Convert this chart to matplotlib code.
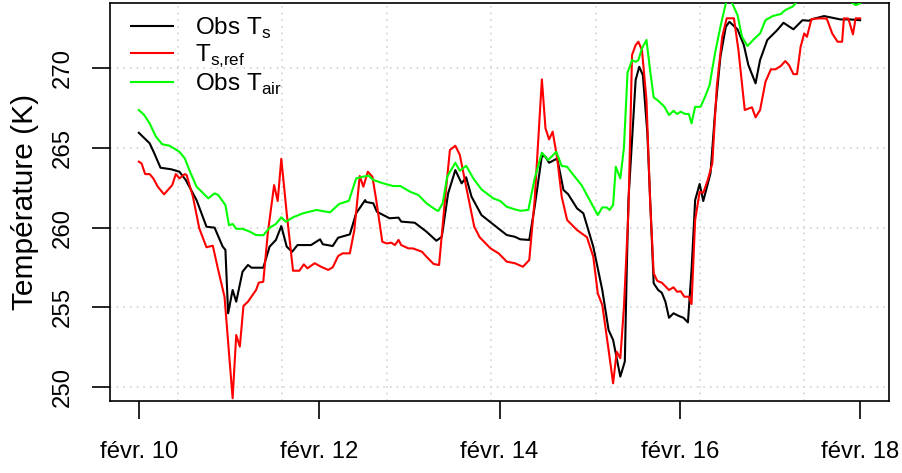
import matplotlib
matplotlib.use("Agg")
import matplotlib.pyplot as plt
import matplotlib.dates as mdates
import numpy as np
import pandas as pd

# Observations, 10-18 février (temps en jours depuis le 10 févr. 00:00)
start = pd.Timestamp("2016-02-10 00:00")

ts_obs_days = [0.00, 0.12, 0.17, 0.24, 0.36, 0.45, 0.52, 0.64, 0.75, 0.84, 0.93, 0.96, 0.99, 1.04, 1.08,
               1.15, 1.21, 1.25, 1.38, 1.45, 1.52, 1.58, 1.64, 1.70, 1.76, 1.91, 2.01, 2.04, 2.15, 2.21,
               2.34, 2.41, 2.51, 2.52, 2.60, 2.64, 2.78, 2.88, 2.91, 3.06, 3.19, 3.30, 3.36, 3.43, 3.51,
               3.58, 3.63, 3.69, 3.80, 4.01, 4.08, 4.17, 4.23, 4.33, 4.39, 4.47, 4.51, 4.55, 4.64, 4.71,
               4.76, 4.86, 4.93, 5.04, 5.14, 5.21, 5.26, 5.34, 5.39, 5.41, 5.43, 5.51, 5.55, 5.59, 5.64,
               5.71, 5.76, 5.80, 5.84, 5.88, 5.93, 5.99, 6.04, 6.09, 6.13, 6.17, 6.22, 6.26, 6.34, 6.39,
               6.45, 6.51, 6.55, 6.64, 6.71, 6.76, 6.84, 6.89, 6.97, 7.08, 7.15, 7.26, 7.36, 7.43, 7.49,
               7.60, 7.67, 7.78, 7.89, 8.00]
ts_obs = [265.94, 265.28, 264.67, 263.75, 263.65, 263.50, 262.98, 261.72, 260.05, 259.99, 258.80, 258.60,
          254.62, 256.08, 255.35, 257.23, 257.65, 257.48, 257.48, 258.80, 259.22, 260.09, 258.80, 258.48,
          258.90, 258.90, 259.26, 258.95, 258.84, 259.36, 259.57, 260.89, 261.72, 261.60, 261.52, 260.99,
          260.58, 260.62, 260.37, 260.30, 259.74, 259.17, 259.42, 262.14, 263.60, 262.77, 263.15, 261.93,
          260.78, 259.84, 259.53, 259.42, 259.26, 259.22, 261.30, 264.50, 264.44, 264.06, 264.33, 262.35,
          262.10, 261.20, 260.89, 258.80, 256.08, 253.57, 252.95, 250.65, 251.60, 257.00, 261.72, 269.25,
          270.08, 269.56, 265.90, 256.50, 256.08, 255.91, 255.35, 254.34, 254.62, 254.45, 254.34, 254.05,
          257.34, 261.72, 262.73, 261.66, 263.40, 267.16, 270.70, 272.59, 272.90, 272.43, 271.44, 270.19,
          269.04, 270.50, 271.76, 272.38, 272.84, 272.43, 273.00, 272.97, 273.10, 273.26, 273.18, 273.05,
          273.05, 273.00]

ts_ref_days = [0.00, 0.03, 0.07, 0.12, 0.16, 0.21, 0.28, 0.37, 0.41, 0.45, 0.51, 0.53, 0.60, 0.67, 0.75,
               0.82, 0.88, 0.95, 1.04, 1.08, 1.12, 1.16, 1.21, 1.30, 1.33, 1.38, 1.43, 1.50, 1.54, 1.58,
               1.64, 1.71, 1.78, 1.83, 1.87, 1.95, 2.02, 2.10, 2.15, 2.21, 2.26, 2.34, 2.39, 2.45, 2.49,
               2.54, 2.59, 2.63, 2.70, 2.75, 2.80, 2.84, 2.88, 2.91, 2.99, 3.04, 3.14, 3.19, 3.27, 3.33,
               3.39, 3.45, 3.51, 3.56, 3.63, 3.72, 3.78, 3.90, 3.99, 4.08, 4.17, 4.26, 4.33, 4.39, 4.47,
               4.51, 4.55, 4.59, 4.64, 4.69, 4.75, 4.86, 4.97, 5.04, 5.09, 5.14, 5.21, 5.26, 5.30, 5.34,
               5.38, 5.43, 5.47, 5.51, 5.54, 5.58, 5.63, 5.67, 5.71, 5.75, 5.80, 5.88, 5.93, 5.97, 6.01,
               6.05, 6.10, 6.13, 6.17, 6.22, 6.26, 6.31, 6.36, 6.41, 6.47, 6.52, 6.60, 6.65, 6.72, 6.80,
               6.84, 6.89, 6.95, 7.01, 7.06, 7.12, 7.17, 7.21, 7.26, 7.30, 7.34, 7.38, 7.41, 7.46, 7.56,
               7.63, 7.69, 7.75, 7.80, 7.82, 7.87, 7.92, 7.95, 8.00]
ts_ref = [264.13, 264.02, 263.35, 263.35, 263.08, 262.56, 262.08, 262.66, 263.35, 263.08, 263.35, 263.29,
          261.93, 259.95, 258.76, 258.86, 257.34, 255.66, 249.29, 253.26, 252.53, 255.08, 255.35, 256.08,
          256.54, 256.60, 259.64, 262.66, 261.66, 264.31, 260.89, 257.29, 257.29, 257.69, 257.44, 257.76,
          257.54, 257.34, 257.50, 258.21, 258.38, 258.38, 259.84, 263.23, 262.56, 263.50, 263.19, 261.83,
          259.11, 259.00, 259.05, 258.90, 259.22, 258.90, 258.69, 258.69, 258.48, 258.17, 257.71, 257.65,
          261.41, 264.86, 265.13, 264.55, 262.56, 260.05, 259.39, 258.69, 258.38, 257.86, 257.76, 257.54,
          257.96, 261.72, 269.29, 266.22, 265.53, 266.01, 264.33, 261.93, 260.47, 259.84, 259.39, 258.17,
          255.87, 255.14, 252.32, 250.23, 252.21, 251.80, 255.00, 261.00, 270.82, 271.44, 271.65, 271.13,
          268.00, 261.72, 257.13, 256.65, 256.54, 256.08, 256.25, 255.97, 256.00, 255.66, 255.66, 255.20,
          260.47, 262.24, 262.18, 262.98, 264.02, 268.83, 271.96, 273.12, 273.12, 271.13, 267.37, 267.54,
          266.91, 267.37, 269.14, 269.92, 269.92, 270.13, 270.44, 270.19, 269.62, 269.62, 271.34, 272.17,
          271.96, 273.07, 273.12, 273.10, 272.17, 271.65, 271.65, 273.12, 273.10, 272.11, 273.12, 273.12]

tair_days = [0.00, 0.06, 0.12, 0.19, 0.26, 0.34, 0.45, 0.51, 0.56, 0.64, 0.77, 0.84, 0.88, 0.96, 1.00,
             1.04, 1.08, 1.15, 1.23, 1.30, 1.38, 1.45, 1.52, 1.58, 1.63, 1.71, 1.82, 1.97, 2.12, 2.22,
             2.33, 2.41, 2.49, 2.55, 2.60, 2.71, 2.82, 2.90, 3.01, 3.10, 3.19, 3.27, 3.32, 3.37, 3.42,
             3.51, 3.56, 3.63, 3.71, 3.80, 3.93, 4.01, 4.08, 4.17, 4.23, 4.32, 4.39, 4.47, 4.54, 4.63,
             4.69, 4.75, 4.82, 4.91, 5.01, 5.09, 5.14, 5.19, 5.22, 5.26, 5.29, 5.34, 5.38, 5.42, 5.47,
             5.51, 5.54, 5.58, 5.63, 5.67, 5.71, 5.76, 5.83, 5.88, 5.93, 5.97, 6.01, 6.06, 6.10, 6.13,
             6.17, 6.23, 6.28, 6.33, 6.39, 6.45, 6.51, 6.55, 6.59, 6.64, 6.69, 6.75, 6.82, 6.89, 6.95,
             7.03, 7.12, 7.17, 7.25, 7.30, 7.40, 7.55, 7.70, 7.85, 7.95, 8.00]
tair = [267.37, 267.05, 266.53, 265.69, 265.22, 265.13, 264.75, 264.33, 263.60, 262.56, 261.83, 262.14,
        262.04, 261.41, 260.14, 260.22, 259.92, 259.92, 259.74, 259.53, 259.51, 259.99, 260.22, 260.64,
        260.36, 260.64, 260.89, 261.10, 260.95, 261.47, 261.68, 263.08, 263.19, 263.25, 262.98, 262.77,
        262.60, 262.60, 262.24, 262.04, 261.52, 261.20, 261.03, 261.52, 263.19, 264.06, 263.56, 263.87,
        263.08, 262.39, 261.83, 261.66, 261.30, 261.14, 261.05, 261.10, 263.08, 264.69, 264.23, 264.75,
        263.86, 263.81, 263.29, 262.66, 261.62, 260.78, 261.26, 261.26, 261.10, 261.41, 263.81, 263.08,
        265.00, 269.70, 270.50, 270.39, 270.50, 271.23, 271.76, 269.87, 268.16, 267.95, 267.57, 267.05,
        267.32, 267.12, 267.26, 267.12, 267.12, 266.53, 267.57, 267.57, 268.20, 268.93, 270.92, 272.59,
        274.06, 274.40, 273.95, 273.32, 271.96, 271.38, 271.80, 272.17, 273.00, 273.26, 273.39, 273.64,
        273.85, 274.16, 274.50, 274.70, 274.60, 274.30, 273.95, 274.06]

y_ticks = [250, 255, 260, 265, 270]
x_tick_days = [0, 2, 4, 6, 8]
labels = [r"Obs T$_\mathregular{s}$", r"T$_\mathregular{s{,}ref}$", r"Obs T$_\mathregular{air}$"]


def to_time(days):
    return start + pd.to_timedelta(np.asarray(days), unit="D")


plt.rcParams["font.family"] = ["Liberation Sans", "DejaVu Sans"]
plt.rcParams["font.size"] = 17.2

fig = plt.figure(figsize=(9.02, 4.73), dpi=100)
ax = fig.add_axes([110 / 902, 72 / 473, 779 / 902, 398 / 473])

ax.plot(to_time(ts_obs_days), ts_obs, color="black", lw=1.5, label=labels[0], zorder=3)
ax.plot(to_time(ts_ref_days), ts_ref, color="red", lw=1.5, label=labels[1], zorder=3)
ax.plot(to_time(tair_days), tair, color="#00FF00", lw=1.5, label=labels[2], zorder=3)

# limites façon R (4% de marge)
ax.set_xlim(to_time([-0.32])[0], to_time([8.32])[0])
ax.set_ylim(249.12, 274.08)

# grille R : lignes verticales aux multiples de 1e5 s
t0 = int(to_time([-0.32])[0].timestamp()) // 100000 + 1
t1 = int(to_time([8.32])[0].timestamp()) // 100000
for k in range(t0, t1 + 1):
    ax.axvline(pd.to_datetime(k * 100000, unit="s"), color="lightgray", lw=1.2,
               ls=(0, (1, 3)), zorder=1)
for yv in y_ticks:
    ax.axhline(yv, color="lightgray", lw=1.2, ls=(0, (1, 3)), zorder=1)

ax.set_xticks(to_time(x_tick_days))
ax.xaxis.set_major_formatter(mdates.DateFormatter("févr. %d"))
ax.set_yticks(y_ticks)
ax.tick_params(axis="both", direction="out", length=13, width=1.2, color="black", labelsize=17.2)
ax.tick_params(axis="x", pad=16)
ax.tick_params(axis="y", pad=13)
for lab in ax.get_yticklabels():
    lab.set_rotation(90)
    lab.set_va("center")

for sp in ax.spines.values():
    sp.set_linewidth(1.2)

ax.set_ylabel("Température (K)", fontsize=21.5)
ax.yaxis.set_label_coords(-0.091, 0.5)

ax.legend(loc="upper left", bbox_to_anchor=(0.027, 0.968), frameon=False, fontsize=17.5,
          borderpad=0, borderaxespad=0, handlelength=1.72, handletextpad=0.9,
          labelspacing=0.08)

fig.savefig("out.png", dpi=100)
